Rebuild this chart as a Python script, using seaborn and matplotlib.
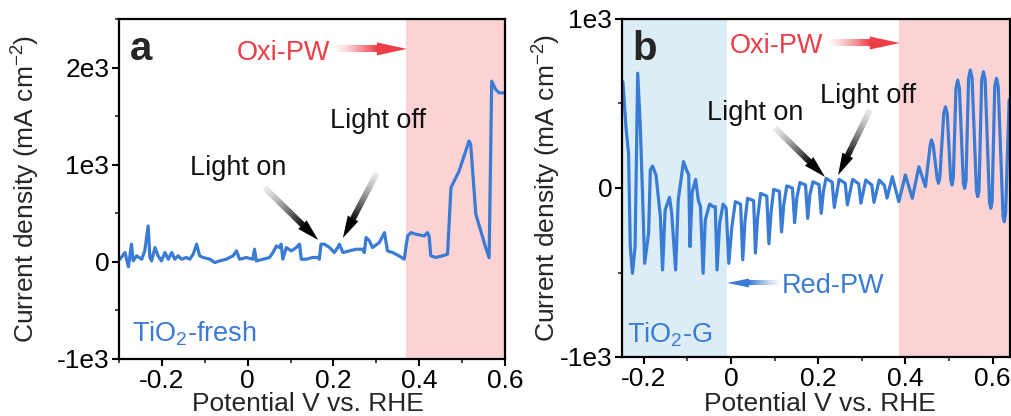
import numpy as np
import matplotlib
matplotlib.use("Agg")
import matplotlib.pyplot as plt
import seaborn as sns
from matplotlib.ticker import MultipleLocator, FixedLocator
from matplotlib.patches import Polygon
from matplotlib.transforms import IdentityTransform

# ---------------- data ----------------
# Panel a : TiO2-fresh
xa = [-0.298, -0.286, -0.278, -0.271, -0.267, -0.259, -0.247, -0.240, -0.232, -0.228,
      -0.224, -0.216, -0.209, -0.201, -0.193, -0.185, -0.177, -0.170, -0.162, -0.154,
      -0.143, -0.135, -0.127, -0.119, -0.112, -0.104, -0.088, -0.077, -0.065, -0.050,
      -0.034, -0.026, -0.019, -0.003, 0.012, 0.016, 0.020, 0.036, 0.051, 0.059,
      0.067, 0.074, 0.078, 0.082, 0.090, 0.102, 0.113, 0.121, 0.125, 0.136,
      0.152, 0.164, 0.167, 0.171, 0.179, 0.191, 0.202, 0.210, 0.214, 0.222,
      0.237, 0.253, 0.268, 0.272, 0.276, 0.284, 0.291, 0.307, 0.319, 0.326,
      0.338, 0.353, 0.365, 0.373, 0.381, 0.392, 0.412, 0.419, 0.423, 0.427,
      0.439, 0.454, 0.466, 0.474, 0.493, 0.516, 0.520, 0.532, 0.555, 0.563,
      0.569, 0.578, 0.586, 0.598]
ya = [27, 96, -51, 182, 10, 62, 27, 113, 370, 45,
      10, 147, 62, 10, 96, 27, 96, 27, 62, 27,
      45, 27, 79, 182, 62, 45, 27, -7, 10, 27,
      62, 113, 27, 45, 27, 130, 10, 27, 45, 96,
      164, 147, 182, 27, 147, 113, 147, 182, 27, 27,
      45, 45, 27, 182, 182, 147, 96, 147, 182, 96,
      113, 130, 130, 96, 250, 216, 147, 199, 301, 113,
      96, 62, 27, 267, 301, 284, 267, 301, 267, 62,
      45, 62, 79, 764, 935, 1244, 1210, 490, 147, 44,
      1860, 1775, 1740, 1740]

# Panel b : TiO2-G
xb = [-0.248, -0.241, -0.235, -0.231, -0.226, -0.220, -0.214, -0.208, -0.203, -0.198,
      -0.189, -0.185, -0.180, -0.172, -0.162, -0.157, -0.151, -0.141, -0.136, -0.127,
      -0.121, -0.109, -0.102, -0.097, -0.094, -0.089, -0.081, -0.075, -0.070, -0.064,
      -0.059, -0.049, -0.041, -0.036, -0.032, -0.026, -0.018, -0.011, -0.005, 0.002,
      0.010, 0.022, 0.027, 0.032, 0.038, 0.052, 0.056, 0.061, 0.068, 0.082,
      0.087, 0.092, 0.098, 0.111, 0.116, 0.121, 0.128, 0.141, 0.146, 0.151,
      0.158, 0.171, 0.176, 0.181, 0.188, 0.202, 0.207, 0.212, 0.218, 0.232,
      0.237, 0.248, 0.262, 0.267, 0.279, 0.293, 0.298, 0.309, 0.323, 0.328,
      0.340, 0.352, 0.358, 0.370, 0.385, 0.400, 0.416, 0.431, 0.446,
      0.457, 0.460, 0.464, 0.473, 0.476, 0.479, 0.488, 0.492, 0.496,
      0.504, 0.507, 0.510, 0.516, 0.520, 0.524, 0.533, 0.536, 0.539,
      0.545, 0.549, 0.553, 0.563, 0.566, 0.569, 0.575, 0.579, 0.583,
      0.593, 0.596, 0.599, 0.605, 0.609, 0.613, 0.624, 0.627, 0.630, 0.638]
yb = [629, 363, 205, -347, -505, -347, 679, 363, -32, -446,
      -268, 107, 130, 77, -170, -485, -130, -55, -150, -485,
      -71, 156, 107, 77, -347, -22, 51, -71, -110, -505,
      -189, -95, -110, -110, -485, -209, -95, -120, -446, -229,
      -81, -95, -425, -200, -61, -75, -385, -180, -32, -48,
      -330, -140, -8, -20, -260, -100, 12, 0, -205, -60,
      32, 18, -180, -40, 37, 20, -150, -20, 57, 35,
      -115, 51, 28, -100, 51, 25, -90, 47, 18, -85,
      47, 15, -60, 67, -81, 77, -61, 126, 8,
      255, 284, 250, 55, 28, 60, 440, 481, 440,
      50, 18, 60, 590, 639, 590, 30, -2, 40,
      650, 698, 650, -15, -51, -10, 640, 688, 640,
      -85, -120, -80, 600, 649, 600, -165, -199, -150, 521]

# shaded regions (potential windows)
oxi_a = [0.37, 0.60]
oxi_b = [0.385, 0.64]
red_b = [-0.25, -0.009]

xticks = [-0.2, 0.0, 0.2, 0.4, 0.6]
xticklabels = ["-0.2", "0", "0.2", "0.4", "0.6"]
yticks_a = [-1000, 0, 1000, 2000]
yticklabels_a = ["-1e3", "0", "1e3", "2e3"]
yticks_b = [-1000, 0, 1000]
yticklabels_b = ["-1e3", "0", "1e3"]

# ---------------- style ----------------
sns.set_style("ticks")
plt.rcParams["font.family"] = ["Liberation Sans", "DejaVu Sans"]
plt.rcParams["mathtext.fontset"] = "custom"
plt.rcParams["mathtext.rm"] = "Liberation Sans"
plt.rcParams["mathtext.it"] = "Liberation Sans:italic"
plt.rcParams["mathtext.bf"] = "Liberation Sans:bold"

BLUE = "#3a7bd5"
RED = "#ee3d46"
PINK = "#fcd3d4"
LBLUE = "#dcedf5"
FS = 19

fig = plt.figure(figsize=(10.11, 4.16), dpi=100)
ax_a = fig.add_axes([119 / 1011, 1 - 359 / 416, 386 / 1011, 340 / 416])
ax_b = fig.add_axes([622 / 1011, 1 - 357 / 416, 388 / 1011, 338 / 416])


def style_axes(ax, xlim, ylim, yticks, yticklabels, ylab_x, xlab_x, xlab_y):
    ax.set_xlim(*xlim)
    ax.set_ylim(*ylim)
    ax.xaxis.set_major_locator(FixedLocator(xticks))
    ax.set_xticklabels(xticklabels)
    ax.xaxis.set_minor_locator(MultipleLocator(0.1))
    ax.yaxis.set_major_locator(FixedLocator(yticks))
    ax.set_yticklabels(yticklabels)
    ax.yaxis.set_minor_locator(MultipleLocator(500))
    ax.tick_params(which="major", direction="out", length=5, width=1.5,
                   labelsize=FS, pad=2, colors="black")
    ax.tick_params(which="minor", direction="out", length=3, width=1.2)
    for s in ax.spines.values():
        s.set_linewidth(1.6)
        s.set_color("black")
    ax.set_xlabel("Potential V vs. RHE", fontsize=FS)
    ax.set_ylabel(r"Current density (mA cm$^{\mathregular{-2}}$)", fontsize=FS)
    ax.yaxis.set_label_coords(ylab_x, 0.5)
    ax.xaxis.set_label_coords(xlab_x, xlab_y)
    ax.grid(False)


def grad_arrow(ax, tail, head, rgb, shaft_w, head_w, head_len, c0=0.0, n=40):
    """Gradient arrow drawn in display pixels; tail/head in axes fraction."""
    T = ax.transAxes
    p0 = np.array(T.transform(tail))
    p1 = np.array(T.transform(head))
    d = p1 - p0
    L = np.hypot(*d)
    u = d / L
    nv = np.array([-u[1], u[0]])
    pb = p1 - u * head_len
    rgb = np.array(matplotlib.colors.to_rgb(rgb))
    white = np.ones(3)
    for i in range(n):
        s0 = p0 + (pb - p0) * i / n
        s1 = p0 + (pb - p0) * (i + 1.15) / n
        f = c0 + (1 - c0) * ((i + 0.5) / n) ** 1.3
        col = white * (1 - f) + rgb * f
        poly = [s0 + nv * shaft_w / 2, s1 + nv * shaft_w / 2,
                s1 - nv * shaft_w / 2, s0 - nv * shaft_w / 2]
        ax.add_patch(Polygon(poly, closed=True, transform=IdentityTransform(),
                             facecolor=col, edgecolor="none", clip_on=False, zorder=5))
    ax.add_patch(Polygon([p1, pb + nv * head_w / 2, pb - nv * head_w / 2], closed=True,
                         transform=IdentityTransform(), facecolor=rgb, edgecolor="none",
                         clip_on=False, zorder=5))


# ---------------- panel a ----------------
ax_a.axvspan(*oxi_a, color=PINK, lw=0, zorder=0)
sns.lineplot(x=xa, y=ya, ax=ax_a, color=BLUE, lw=2.3, sort=False, estimator=None)
style_axes(ax_a, (-0.3, 0.6), (-1000, 2500), yticks_a, yticklabels_a,
           -0.20, 0.49, -0.097)
ax_a.text(0.028, 0.879, "a", transform=ax_a.transAxes, fontsize=29, fontweight="bold",
          ha="left", va="baseline")
ax_a.text(0.306, 0.879, "Oxi-PW", transform=ax_a.transAxes, fontsize=FS + 0.5, color=RED,
          ha="left", va="baseline")
ax_a.text(0.184, 0.541, "Light on", transform=ax_a.transAxes, fontsize=FS + 0.5,
          color="#111111", ha="left", va="baseline")
ax_a.text(0.547, 0.679, "Light off", transform=ax_a.transAxes, fontsize=FS + 0.5,
          color="#111111", ha="left", va="baseline")
ax_a.text(0.034, 0.05, r"TiO$_{\mathregular{2}}$-fresh", transform=ax_a.transAxes,
          fontsize=FS + 0.5, color=BLUE, ha="left", va="baseline")
grad_arrow(ax_a, (0.560, 0.912), (0.746, 0.912), RED, 7, 13, 30, c0=0.05)
grad_arrow(ax_a, (0.378, 0.503), (0.516, 0.350), "#000000", 6, 12, 22, c0=0.08)
grad_arrow(ax_a, (0.668, 0.547), (0.580, 0.356), "#000000", 6, 12, 22, c0=0.08)

# ---------------- panel b ----------------
ax_b.axvspan(*red_b, color=LBLUE, lw=0, zorder=0)
ax_b.axvspan(*oxi_b, color=PINK, lw=0, zorder=0)
sns.lineplot(x=xb, y=yb, ax=ax_b, color=BLUE, lw=2.3, sort=False, estimator=None)
style_axes(ax_b, (-0.25, 0.64), (-1000, 1000), yticks_b, yticklabels_b,
           -0.153, 0.51, -0.104)
ax_b.text(0.028, 0.879, "b", transform=ax_b.transAxes, fontsize=29, fontweight="bold",
          ha="left", va="baseline")
ax_b.text(0.278, 0.899, "Oxi-PW", transform=ax_b.transAxes, fontsize=FS + 0.5, color=RED,
          ha="left", va="baseline")
ax_b.text(0.219, 0.701, "Light on", transform=ax_b.transAxes, fontsize=FS + 0.5,
          color="#111111", ha="left", va="baseline")
ax_b.text(0.510, 0.751, "Light off", transform=ax_b.transAxes, fontsize=FS + 0.5,
          color="#111111", ha="left", va="baseline")
ax_b.text(0.412, 0.189, "Red-PW", transform=ax_b.transAxes, fontsize=FS + 0.5, color=BLUE,
          ha="left", va="baseline")
ax_b.text(0.013, 0.044, r"TiO$_{\mathregular{2}}$-G", transform=ax_b.transAxes,
          fontsize=FS + 0.5, color=BLUE, ha="left", va="baseline")
grad_arrow(ax_b, (0.536, 0.929), (0.716, 0.929), RED, 7, 13, 30, c0=0.05)
grad_arrow(ax_b, (0.394, 0.678), (0.523, 0.533), "#000000", 6, 12, 22, c0=0.08)
grad_arrow(ax_b, (0.639, 0.731), (0.557, 0.538), "#000000", 6, 12, 22, c0=0.08)
grad_arrow(ax_b, (0.407, 0.219), (0.271, 0.219), BLUE, 5, 9, 22, c0=0.05)

fig.savefig("out.png", dpi=100)
